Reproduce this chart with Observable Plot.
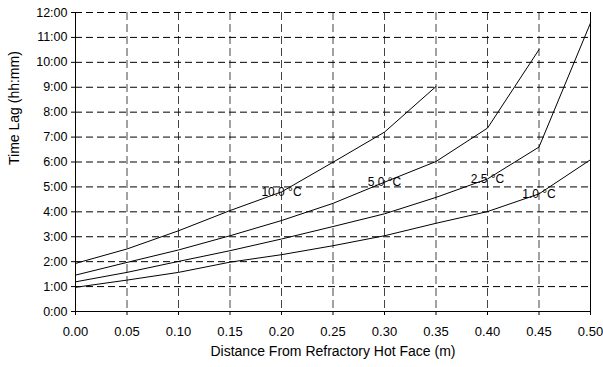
<!DOCTYPE html>
<html>
<head>
<meta charset="utf-8">
<script src="https://cdn.jsdelivr.net/npm/d3@7"></script>
<script src="https://cdn.jsdelivr.net/npm/@observablehq/plot@0.6"></script>
<style>
  html, body { margin: 0; padding: 0; background: #fff; }
  #chart svg { display: block; }
</style>
</head>
<body>
<div id="chart"></div>
<script>
// Distance from refractory hot face (m)
const distance = [0.00, 0.05, 0.10, 0.15, 0.20, 0.25, 0.30, 0.35, 0.40, 0.45, 0.50];
// Time lag in hours for each temperature curve
const lag10 = [1.93, 2.51, 3.24, 4.05, 4.80, 5.99, 7.20, 9.03];
const lag5  = [1.46, 1.97, 2.47, 3.04, 3.65, 4.34, 5.19, 6.02, 7.36, 10.51];
const lag25 = [1.19, 1.57, 2.01, 2.44, 2.91, 3.41, 3.92, 4.58, 5.32, 6.60, 11.58];
const lag1  = [0.97, 1.26, 1.57, 1.98, 2.28, 2.64, 3.04, 3.54, 4.01, 4.72, 6.09];
const seriesNames = ["10.0 °C", "5.0 °C", "2.5 °C", "1.0 °C"];
const labelIndex = [4, 6, 8, 9];
const xTicks = [0.00, 0.05, 0.10, 0.15, 0.20, 0.25, 0.30, 0.35, 0.40, 0.45, 0.50];
const yTicks = [0, 1, 2, 3, 4, 5, 6, 7, 8, 9, 10, 11, 12];
const xTitle = "Distance From Refractory Hot Face (m)";
const yTitle = "Time Lag (hh:mm)";

const allLags = [lag10, lag5, lag25, lag1];
const rows = [];
allLags.forEach((arr, s) => arr.forEach((v, i) => rows.push({series: seriesNames[s], x: distance[i], y: v})));
const labels = seriesNames.map((n, s) => ({name: n, x: distance[labelIndex[s]], y: allLags[s][labelIndex[s]]}));

const font = "Arial, 'Liberation Sans', sans-serif";
const chart = Plot.plot({
  width: 603,
  height: 367,
  marginLeft: 75,
  marginRight: 13,
  marginTop: 12,
  marginBottom: 56,
  style: {fontFamily: font, background: "#fff", color: "#000"},
  x: {domain: [0, 0.5]},
  y: {domain: [0, 12]},
  marks: [
    Plot.gridX(xTicks.filter(d => d > 0 && d < 0.5), {stroke: "#444", strokeOpacity: 1, strokeDasharray: "8,4"}),
    Plot.gridY(yTicks.filter(d => d > 0), {stroke: "#000", strokeOpacity: 1, strokeDasharray: "7,4"}),
    Plot.ruleX([0.5], {stroke: "#000"}),
    Plot.line(rows, {x: "x", y: "y", z: "series", stroke: "#000", strokeWidth: 1}),
    Plot.text(labels, {x: "x", y: "y", text: "name", fontSize: 12, fill: "black"}),
    Plot.axisX({ticks: xTicks, tickFormat: d3.format(".2f"), tickSize: 4, tickPadding: 11, fontSize: 13, label: null}),
    Plot.axisY({ticks: yTicks, tickFormat: d => `${d}:00`, tickSize: 4, tickPadding: 4, fontSize: 12.5, label: null}),
    Plot.ruleY([0], {stroke: "#000"}),
    Plot.ruleX([0], {stroke: "#000"}),
    Plot.text([xTitle], {frameAnchor: "bottom", dy: 44, fontSize: 14, fill: "black"}),
    Plot.text([yTitle], {frameAnchor: "left", dx: -61, dy: 3, rotate: -90, fontSize: 14, fill: "black"})
  ]
});
document.getElementById("chart").appendChild(chart);
</script>
</body>
</html>
